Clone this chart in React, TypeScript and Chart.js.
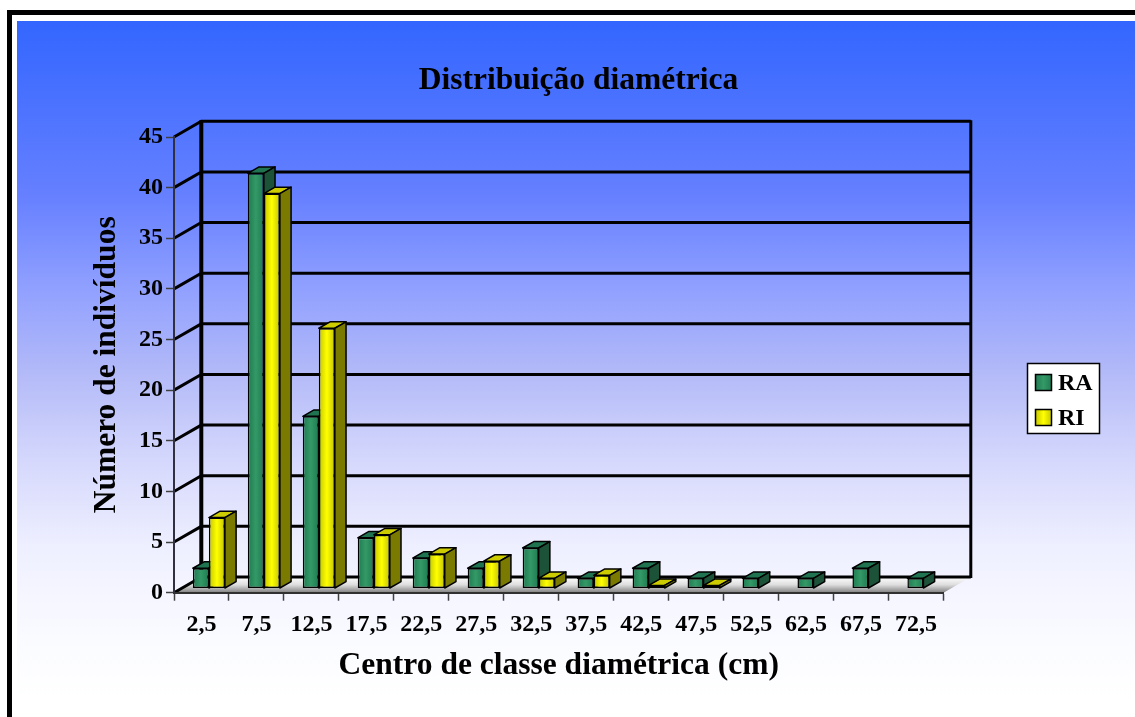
import React, { useEffect, useRef } from "react";
import { Chart, registerables } from "chart.js";

Chart.register(...registerables);

const categories = ["2,5","7,5","12,5","17,5","22,5","27,5","32,5","37,5","42,5","47,5","52,5","62,5","67,5","72,5"];
const seriesRA = [2,41,17,5,3,2,4,1,2,1,1,1,2,1];
const seriesRI = [7,39,25.7,5.3,3.4,2.7,1,1.3,0.3,0.3,null,null,null,null];
const titleText = "Distribuição diamétrica";
const xTitleText = "Centro de classe diamétrica (cm)";
const yTitleText = "Número de indivíduos";

const FONT = '"Liberation Serif", serif';
const WALL = { dx: 27.3, dy: -15.7 };
const BAR_SHIFT = { dx: 7.4, dy: -4.2 };
const BAR_DEPTH = { dx: 11.2, dy: -6.4 };
const W = 1135, H = 717;
const PANEL_TOP = 21, PANEL_BOTTOM = 700;
const panelStops: [number, string][] = [
  [21, "#3366ff"], [197, "#6680ff"], [285, "#8f9fff"], [373, "#b3baf8"],
  [461, "#d5d8fc"], [550, "#eff0ff"], [638, "#fafbff"], [700, "#ffffff"],
];

const paints = {
  RA: { edge: "#1f7a52", mid: "#339966", top: "#1f7350", side: "#1b5238" },
  RI: { edge: "#c4c400", mid: "#ffff00", top: "#cccc00", side: "#7a7a00" },
} as const;

function hGrad(ctx: CanvasRenderingContext2D, x0: number, x1: number, p: { edge: string; mid: string }) {
  const g = ctx.createLinearGradient(x0, 0, x1, 0);
  g.addColorStop(0, p.edge);
  g.addColorStop(0.5, p.mid);
  g.addColorStop(1, p.edge);
  return g;
}

function barFill(p: { edge: string; mid: string }, side: number) {
  return (c: any) => {
    const x = c.chart.scales.x;
    if (c.type !== "data" || !x || !x.width) return p.mid;
    const cx = x.getPixelForValue(c.dataIndex);
    return side < 0 ? hGrad(c.chart.ctx, cx - 16, cx, p) : hGrad(c.chart.ctx, cx, cx + 16, p);
  };
}

const scene3d = {
  id: "scene3d",
  afterLayout(chart: any) {
    if (chart.titleBlock) {
      chart.titleBlock.left = 22;
      chart.titleBlock.right = W;
    }
  },
  beforeDraw(chart: any) {
    const { ctx, chartArea: a, scales } = chart;
    const y = scales.y;
    ctx.save();
    ctx.fillStyle = "#ffffff";
    ctx.fillRect(0, 0, W, H);
    ctx.fillStyle = "#000000";
    ctx.fillRect(7, 10, W - 7, 5);
    ctx.fillRect(7, 10, 5, H - 10);
    const bg = ctx.createLinearGradient(0, PANEL_TOP, 0, PANEL_BOTTOM);
    panelStops.forEach(([py, c]) => bg.addColorStop((py - PANEL_TOP) / (PANEL_BOTTOM - PANEL_TOP), c));
    ctx.fillStyle = bg;
    ctx.fillRect(17, PANEL_TOP, W - 17, PANEL_BOTTOM - PANEL_TOP);

    const y0 = y.getPixelForValue(0);
    const yMax = y.getPixelForValue(45);
    const lx = a.left, rx = a.right;
    const blx = lx + WALL.dx, brx = rx + WALL.dx;
    const by0 = y0 + WALL.dy;

    const fg = ctx.createLinearGradient(0, by0, 0, y0);
    fg.addColorStop(0, "#ffffff");
    fg.addColorStop(0.5, "#dddddd");
    fg.addColorStop(1, "#808080");
    ctx.fillStyle = fg;
    ctx.beginPath();
    ctx.moveTo(lx, y0);
    ctx.lineTo(blx, by0);
    ctx.lineTo(brx, by0);
    ctx.lineTo(rx, y0);
    ctx.closePath();
    ctx.fill();

    ctx.strokeStyle = "#000000";
    ctx.lineWidth = 3;
    for (const t of y.ticks) {
      const py = y.getPixelForValue(t.value);
      ctx.beginPath();
      ctx.moveTo(lx, py);
      ctx.lineTo(blx, py + WALL.dy);
      ctx.lineTo(brx, py + WALL.dy);
      ctx.stroke();
    }
    ctx.lineWidth = 4;
    ctx.beginPath();
    ctx.moveTo(blx, by0 + 1);
    ctx.lineTo(blx, yMax + WALL.dy - 1);
    ctx.stroke();
    ctx.lineWidth = 3;
    ctx.beginPath();
    ctx.moveTo(brx, by0 + 1);
    ctx.lineTo(brx, yMax + WALL.dy - 1);
    ctx.stroke();
    ctx.restore();
  },
  // The datasets are painted here, left series first, each with its 3D faces.
  beforeDatasetsDraw(chart: any) {
    const { ctx } = chart;
    [0, 1].forEach((index) => {
      const meta = chart.getDatasetMeta(index);
      const d = chart.data.datasets[index];
      const p = d.paint;
      ctx.save();
      ctx.translate(BAR_SHIFT.dx, BAR_SHIFT.dy);
      ctx.lineWidth = 1.5;
      ctx.strokeStyle = "#000000";
      ctx.lineJoin = "round";
      meta.data.forEach((el: any, i: number) => {
        if (d.data[i] == null) return;
        const l = el.x - el.width / 2, r = el.x + el.width / 2, t = el.y, b = el.base;
        ctx.fillStyle = p.top;
        ctx.beginPath();
        ctx.moveTo(l, t);
        ctx.lineTo(l + BAR_DEPTH.dx, t + BAR_DEPTH.dy);
        ctx.lineTo(r + BAR_DEPTH.dx, t + BAR_DEPTH.dy);
        ctx.lineTo(r, t);
        ctx.closePath();
        ctx.fill();
        ctx.stroke();
        ctx.fillStyle = p.side;
        ctx.beginPath();
        ctx.moveTo(r, t);
        ctx.lineTo(r + BAR_DEPTH.dx, t + BAR_DEPTH.dy);
        ctx.lineTo(r + BAR_DEPTH.dx, b + BAR_DEPTH.dy);
        ctx.lineTo(r, b);
        ctx.closePath();
        ctx.fill();
        ctx.stroke();
      });
      meta.controller.draw();
      ctx.restore();
    });
  },
  beforeDatasetDraw() {
    return false;
  },
  afterDraw(chart: any) {
    const { ctx } = chart;
    ctx.save();
    ctx.fillStyle = "#ffffff";
    ctx.strokeStyle = "#000000";
    ctx.lineWidth = 1.5;
    ctx.fillRect(1027.5, 363.5, 72, 70);
    ctx.strokeRect(1027.5, 363.5, 72, 70);
    ctx.font = `bold 24px ${FONT}`;
    ctx.textBaseline = "middle";
    chart.data.datasets.forEach((d: any, i: number) => {
      const by = 374.5 + i * 35;
      ctx.fillStyle = hGrad(ctx, 1035, 1052, d.paint);
      ctx.fillRect(1035.5, by, 16, 16);
      ctx.lineWidth = 1.5;
      ctx.strokeRect(1035.5, by, 16, 16);
      ctx.fillStyle = "#000000";
      ctx.fillText(d.label, 1058, by + 9);
    });
    ctx.restore();
  },
};

export default function App() {
  const ref = useRef<HTMLCanvasElement | null>(null);
  useEffect(() => {
    if (!ref.current) return;
    const chart = new Chart(ref.current, {
      type: "bar",
      data: {
        labels: categories,
        datasets: [
          { label: "RA", data: seriesRA, paint: paints.RA, backgroundColor: barFill(paints.RA, -1) } as any,
          { label: "RI", data: seriesRI, paint: paints.RI, backgroundColor: barFill(paints.RI, 1) } as any,
        ],
      },
      options: {
        responsive: false,
        animation: false,
        devicePixelRatio: 1,
        layout: { padding: { left: 88, top: 62, right: 191.5, bottom: 32.1 } },
        datasets: {
          bar: {
            categoryPercentage: 0.583,
            barPercentage: 1,
            borderWidth: 1.5,
            borderColor: "#000000",
            borderSkipped: false,
            clip: false,
          },
        },
        plugins: {
          legend: { display: false },
          tooltip: { enabled: false },
          title: {
            display: true,
            text: titleText,
            color: "#000000",
            font: { family: FONT, size: 31.5, weight: "bold", lineHeight: 1.2 },
            padding: { top: 0, bottom: 37.2 },
          },
        },
        scales: {
          x: {
            afterFit: (s: any) => { s.height = 92.2; },
            grid: { display: true, drawOnChartArea: false, drawTicks: true, tickLength: 8, tickColor: "#404040", tickWidth: 1.5, offset: true },
            border: { display: true, color: "#303030", width: 2 },
            ticks: { color: "#000000", font: { family: FONT, size: 24, weight: "bold" }, padding: 10, maxRotation: 0, autoSkip: false },
            title: { display: true, text: xTitleText, color: "#000000", font: { family: FONT, size: 31.5, weight: "bold", lineHeight: 1.2 }, padding: 0 },
          },
          y: {
            min: 0,
            max: 45,
            afterFit: (s: any) => { s.width = 86; },
            grid: { display: true, drawOnChartArea: false, drawTicks: true, tickLength: 8, tickColor: "#404040", tickWidth: 1.5 },
            border: { display: true, color: "#303040", width: 2 },
            ticks: { stepSize: 5, color: "#000000", font: { family: FONT, size: 24, weight: "bold" }, padding: 3 },
            title: { display: true, text: yTitleText, color: "#000000", font: { family: FONT, size: 31.5, weight: "bold", lineHeight: 1.2 }, padding: 0 },
          },
        },
      },
      plugins: [scene3d],
    } as any);
    return () => chart.destroy();
  }, []);
  return (
    <div style={{ position: "fixed", left: 0, top: 0, width: W, height: H, overflow: "hidden" }}>
      <canvas ref={ref} width={W} height={H} style={{ display: "block" }} />
    </div>
  );
}
